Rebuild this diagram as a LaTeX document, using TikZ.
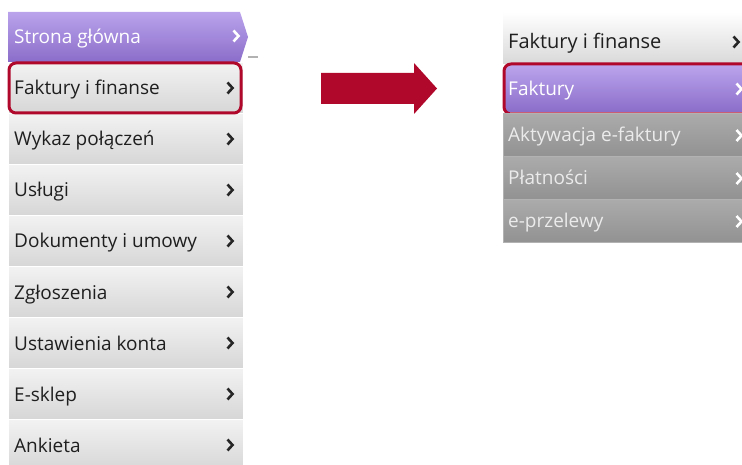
\documentclass[tikz,border=0pt]{standalone}
\usepackage{fontspec}
\setmainfont{Open Sans}
\definecolor{crimson}{HTML}{B0082A}
\definecolor{lilactop}{HTML}{BBA3EC}
\definecolor{lilacbot}{HTML}{8A6DC9}
\tikzset{pics/chev/.style = {code = {
  \draw[line width=2.6pt, #1] (-2.5,-5.5) -- (2.5,0) -- (-2.5,5.5);}},
  pics/chev/.default = black!85}

\begin{document}
\begin{tikzpicture}[x=1pt, y=-1pt,
  every node/.style = {font=\fontsize{19}{20}\selectfont, inner sep=0pt},
  lrow/.style = {rectangle, draw=white, line width=1pt, top color=black!5,
    bottom color=black!16, minimum width=235pt, minimum height=51pt},
  subrow/.style = {rectangle, draw=black!30, line width=1pt, top color=black!33,
    bottom color=black!43, minimum width=260pt, minimum height=43pt},
  item/.style = {anchor=base west, text=black!88},
  selbox/.style = {draw=crimson, line width=3pt, rounded corners=7pt}]
  \clip (0,0) rectangle (742,465);
  \useasboundingbox (0,0) rectangle (742,465);

  % left menu
  \shade[top color=lilactop, bottom color=lilacbot]
    (8,12) -- (240,12) -- (248,37) -- (240,62) -- (8,62) -- cycle;
  \draw[black!30, line width=1.5pt] (248,57) -- (258,57);
  \node[item, text=white] (home) at (14,44) {Strona główna};
  \pic at (236,36) {chev=white};
  \foreach \lbl [count=\i] in {Faktury i finanse, Wykaz połączeń, Usługi,
      Dokumenty i umowy, Zgłoszenia, Ustawienia konta, E-sklep, Ankieta} {
    \node[lrow] (l\i) at (125.5,{37+51*\i}) {};
    \node[item] (t\i) at (14,{44+51*\i}) {\lbl};
    \pic at (230,{37+51*\i}) {chev};
  }
  \draw[selbox] (9,63) rectangle (241,113);

  % arrow
  \fill[crimson] (321,73) -- (414,73) -- (414,63) -- (437,88.5)
    -- (414,114) -- (414,104) -- (321,104) -- cycle;

  % right menu
  \node[rectangle, top color=white, bottom color=black!15, minimum width=260pt,
    minimum height=52pt] (top) at (633,38) {};
  \node[item, font=\fontsize{20}{20}\selectfont] (topt) at (508,49) {Faktury i finanse};
  \pic at (736,42) {chev};
  \shade[top color=lilactop, bottom color=lilacbot] (505,66) rectangle (760,112);
  \node[item, text=white] (fak) at (508,96) {Faktury};
  \pic at (739,89) {chev=white};
  \draw[selbox] (504,64) rectangle (760,114);
  \foreach \lbl [count=\i] in {Aktywacja e-faktury, Płatności, e-przelewy} {
    \node[subrow] (r\i) at (633,{92.5+43*\i}) {};
    \node[item, text=white!92!black] (s\i) at (508,{99+43*\i}) {\lbl};
    \pic at (739,{92.5+43*\i}) {chev=white};
  }
\end{tikzpicture}
\end{document}
